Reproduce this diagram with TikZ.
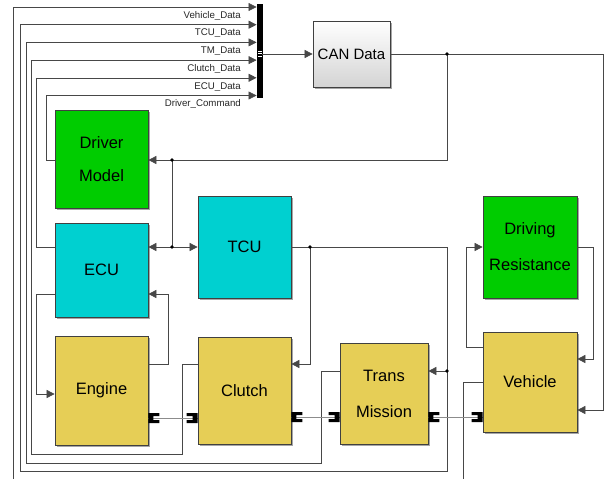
\documentclass[tikz,border=0pt]{standalone}
\usepackage{fontspec}
\setmainfont{Liberation Sans}
\usetikzlibrary{arrows.meta,shadows}

\definecolor{blkgreen}{RGB}{0,204,0}
\definecolor{blkcyan}{RGB}{0,208,208}
\definecolor{blkyellow}{RGB}{230,206,86}

\begin{document}
\begin{tikzpicture}[x=1pt,y=-1pt,
  blk/.style={draw=black!75, line width=0.7pt, inner sep=0pt, align=center,
    font=\fontsize{16.5}{36}\selectfont,
    drop shadow={shadow xshift=2pt, shadow yshift=-2pt, opacity=0.35, fill=black}},
  wire/.style={draw=black!72, line width=0.6pt},
  sig/.style={wire, -{Triangle[length=8pt,width=8pt]}},
  phys/.style={draw=black!45, line width=0.6pt},
  siglabel/.style={anchor=east, inner sep=0pt, font=\fontsize{9.7}{11}\selectfont, text=black!85},
  jdot/.style={fill=black, radius=1.9pt},
  portR/.pic={\fill (0,-5) -- (11,-5) -- (11,-2) -- (5,-2) -- (5,2) -- (11,2) -- (11,5) -- (0,5) -- cycle;},
  portL/.pic={\fill (0,-5) -- (-11,-5) -- (-11,-2) -- (-5,-2) -- (-5,2) -- (-11,2) -- (-11,5) -- (0,5) -- cycle;}
]
\useasboundingbox (0,0) rectangle (606,479);

% ---- blocks ----
\node[blk, fill=blkgreen, minimum width=93pt, minimum height=98pt] (drv) at (101.5,159) {Driver\\[-2.5pt]Model};
\node[blk, fill=blkcyan, minimum width=93pt, minimum height=94pt] (ecu) at (101.5,270) {ECU};
\node[blk, fill=blkcyan, minimum width=93pt, minimum height=102pt] (tcu) at (244.5,247) {TCU};
\node[blk, fill=blkyellow, minimum width=93pt, minimum height=109pt, text depth=3pt] (eng) at (101.5,390.5) {Engine};
\node[blk, fill=blkyellow, minimum width=93pt, minimum height=107pt] (clu) at (244.5,390.5) {Clutch};
\node[blk, fill=blkyellow, minimum width=88pt, minimum height=101pt] (tm) at (384,393.5) {Trans\\Mission};
\node[blk, fill=blkyellow, minimum width=94pt, minimum height=100pt] (veh) at (530,382) {Vehicle};
\node[blk, fill=blkgreen, minimum width=94pt, minimum height=102pt] (dr) at (530,247) {Driving\\Resistance};
\node[blk, top color=white, bottom color=black!17, minimum width=77pt, minimum height=66pt,
      font=\fontsize{15}{18}\selectfont] (can) at (351.5,54) {CAN Data};

% bus creator
\node[fill=black, draw=black, inner sep=0pt, minimum width=5.5pt, minimum height=93pt] (bus) at (259.5,50.5) {};
\foreach \yy in {51,53.5,56} \draw[white, line width=0.6pt] (258.3,\yy) -- (261.5,\yy);

% ---- signal labels ----
\node[siglabel] (l1) at (241,16) {Vehicle\_Data};
\node[siglabel] (l2) at (241,33.5) {TCU\_Data};
\node[siglabel] (l3) at (241,51) {TM\_Data};
\node[siglabel] (l4) at (241,69) {Clutch\_Data};
\node[siglabel] (l5) at (241,87) {ECU\_Data};
\node[siglabel] (l6) at (241,104) {Driver\_Command};

% ---- free ends and junctions ----
\coordinate (vd1) at (13,479);
\coordinate (vd2) at (463,479);
\coordinate (jcan) at (447,54);
\coordinate (jdrv) at (172,160);
\coordinate (jecu) at (172,247);
\coordinate (jtcu) at (310,247);
\coordinate (jtm) at (447,371);

% ---- bus inputs ----
\draw[sig] (vd1) |- (bus.west |- 0,7);
\draw[wire] (veh.west |- 0,382) -| (vd2);
\draw[sig] (tcu.east) -- (447,247) -- (447,471) -| (20,24.7) -- (bus.west |- 0,24.7);
\draw[sig] (tm.west |- 0,371) -| (321,463) -| (26,42.4) -- (bus.west |- 0,42.4);
\draw[sig] (clu.west |- 0,364) -| (182,454) -| (31,60.1) -- (bus.west |- 0,60.1);
\draw[sig] (ecu.west |- 0,247) -| (36.5,77.8) -- (bus.west |- 0,77.8);
\draw[sig] (drv.west |- 0,160) -| (46,95.5) -- (bus.west |- 0,95.5);

% ---- CAN data distribution ----
\draw[sig] (bus.east |- 0,54) -- (can.west);
\draw[sig] (can.east) -- (603,54) |- (veh.east |- 0,410);
\draw[sig] (jcan) |- (drv.east |- 0,160);
\draw[sig] (jdrv) |- (ecu.east |- 0,247);
\draw[sig] (jecu) -- (tcu.west);

% ---- TCU commands ----
\draw[sig] (jtcu) |- (clu.east |- 0,364);
\draw[sig] (jtm) -- (tm.east |- 0,371);

% ---- ECU / Engine loop ----
\draw[sig] (ecu.west |- 0,294) -| (36.5,394) -- (eng.west |- 0,394);
\draw[sig] (eng.east |- 0,364) -| (168,294) -- (ecu.east |- 0,294);

% ---- Vehicle / Driving resistance loop ----
\draw[sig] (veh.west |- 0,347) -| (466,247) -- (dr.west);
\draw[sig] (dr.east) -| (593,359) -- (veh.east |- 0,359);

% junction dots
\foreach \j in {jcan,jdrv,jecu,jtcu,jtm} \fill[jdot] (\j) circle;

% ---- mechanical driveline ----
\draw[phys] (eng.east |- 0,418) -- (clu.west |- 0,418);
\draw[phys] (clu.east |- 0,417) -- (tm.west |- 0,417);
\draw[phys] (tm.east |- 0,417) -- (veh.west |- 0,417);
\pic at (eng.east |- 0,418) {portR};
\pic at (clu.west |- 0,418) {portL};
\pic at (clu.east |- 0,417) {portR};
\pic at (tm.west |- 0,417) {portL};
\pic at (tm.east |- 0,417) {portR};
\pic at (veh.west |- 0,417) {portL};
\end{tikzpicture}
\end{document}
